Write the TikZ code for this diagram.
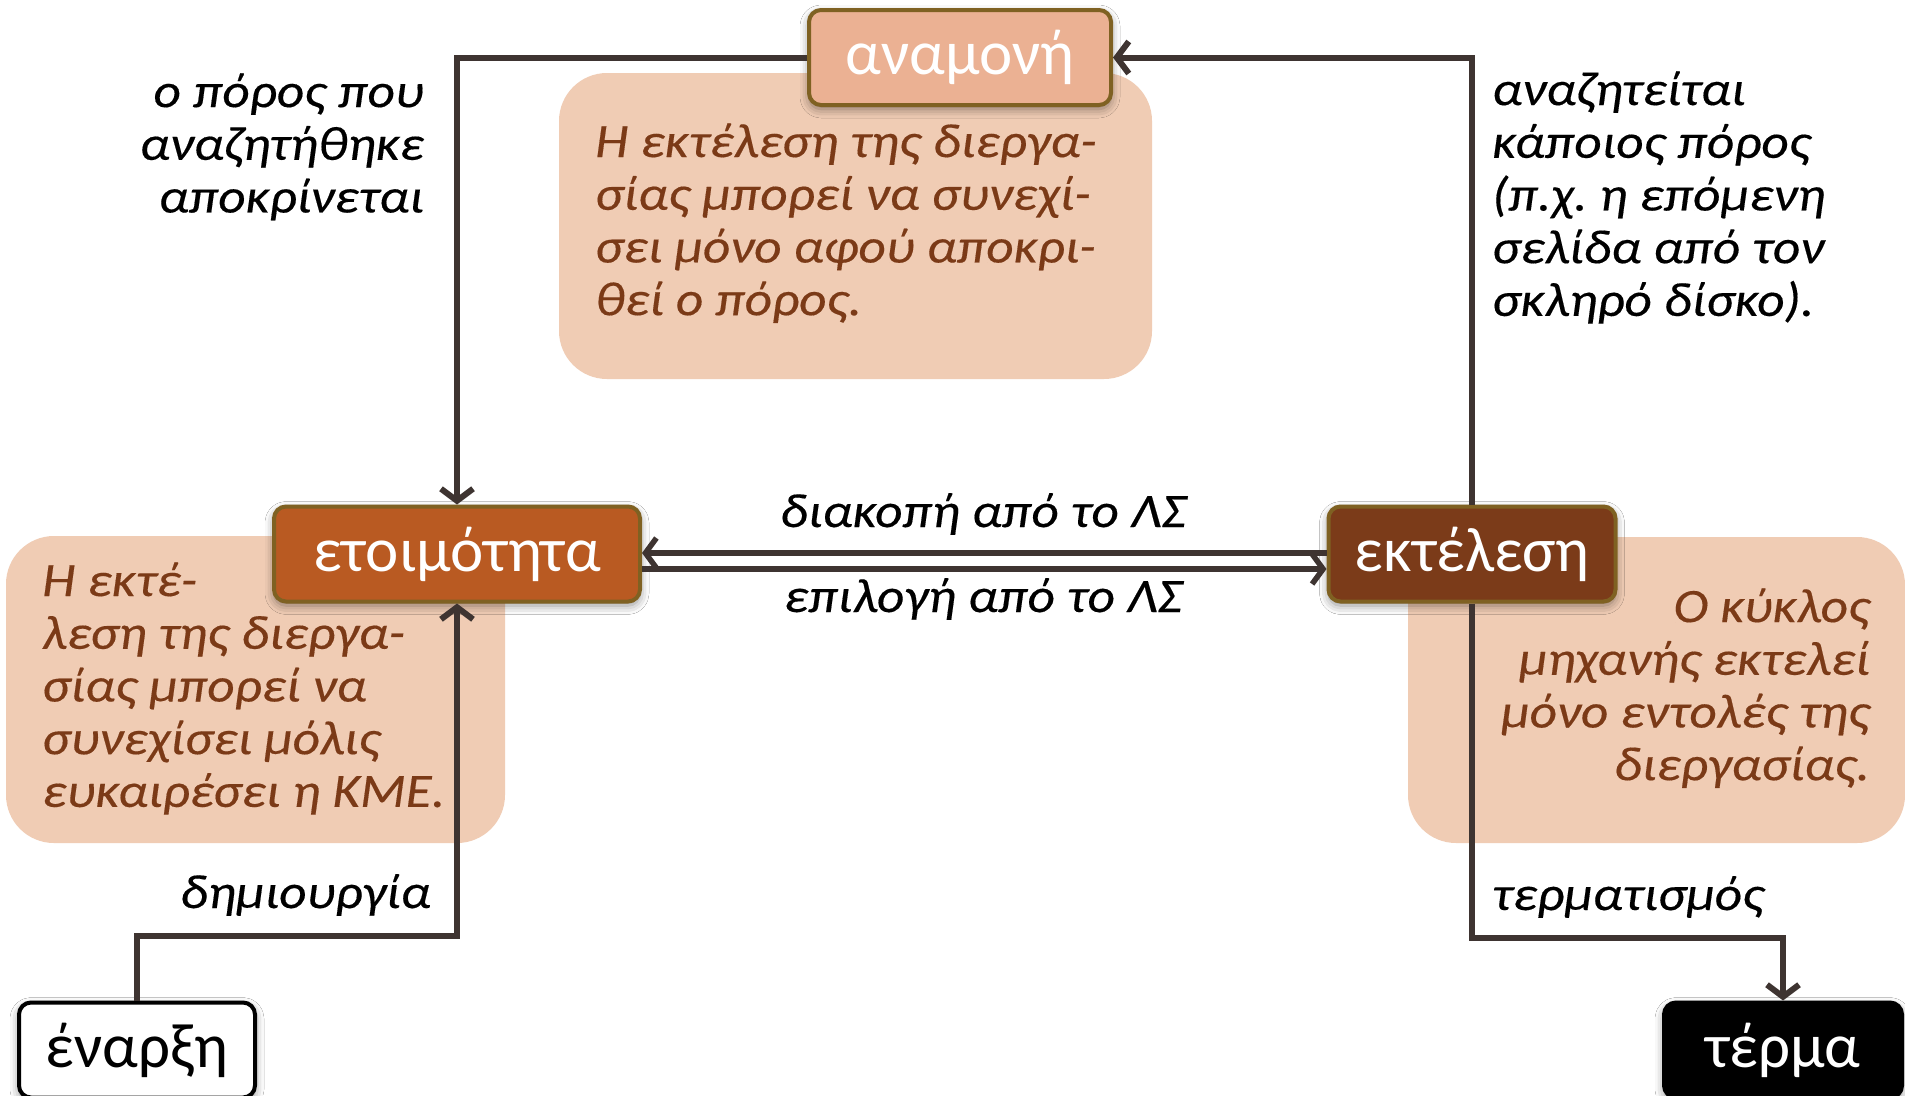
\documentclass[tikz,border=0pt]{standalone}
\usepackage{fontspec}
\setmainfont{Carlito}[ItalicFeatures={FakeStretch=1.11,FakeBold=0.3}]
\usetikzlibrary{arrows.meta,shadows.blur,calc}
\definecolor{waitc}{HTML}{EBB193}
\definecolor{readyc}{HTML}{B95A22}
\definecolor{runc}{HTML}{7B3B19}
\definecolor{bordc}{HTML}{7F6122}
\definecolor{notec}{HTML}{F0CCB4}
\definecolor{notet}{HTML}{7B3A17}
\definecolor{linec}{HTML}{3E3431}
\newcommand\nfont{\fontsize{48}{52.7}\selectfont\itshape\frenchspacing}
\newcommand\bfontx{\fontsize{63}{68}\selectfont}
\begin{document}
\begin{tikzpicture}[x=1pt,y=-1pt,
  state/.style={rounded corners=12pt, line width=4pt, draw=bordc, minimum height=95pt,
    inner sep=0pt, font=\bfontx, text=white,
    blur shadow={shadow xshift=0pt, shadow yshift=-4pt, shadow blur radius=9pt, shadow opacity=45}},
  notebg/.style={fill=notec, rounded corners=48pt},
  notetxt/.style={inner sep=0pt, font=\nfont, text=notet},
  lbl/.style={inner sep=0pt, font=\nfont, text=black},
  arr/.style={draw=linec, line width=6pt, -{Straight Barb[length=12pt,width=32pt,line width=6pt]}},
  arrthin/.style={draw=linec, line width=5.5pt, -{Straight Barb[length=11pt,width=30pt,line width=5.5pt]}}]
\useasboundingbox[fill=white] (0,0) rectangle (1905,1095);

% note backgrounds
\fill[notebg] (559,73) rectangle (1152,379);
\fill[notebg] (6,536) rectangle (505,843);
\fill[notebg] (1408,537) rectangle (1905,843);

% note texts
\node[notetxt, anchor=north west, align=left] (nwait) at (595,120)
  {\strut Η εκτέλεση της διεργα-\\σίας μπορεί να συνεχί-\\σει μόνο αφού αποκρι-\\θεί ο πόρος.};
\node[notetxt, anchor=north west, align=left] (nready) at (42,559)
  {\strut Η εκτέ-\\λεση της διεργα-\\σίας μπορεί να\\συνεχίσει μόλις\\ευκαιρέσει η ΚΜΕ.};
\node[notetxt, anchor=north east, align=right] (nrun) at (1870,585)
  {\strut Ο κύκλος\\μηχανής εκτελεί\\μόνο εντολές της\\διεργασίας.};

% states
\node[state, fill=waitc, minimum width=302pt] (wait) at (960,57.5) {αναμονή};
\node[state, fill=readyc, minimum width=366pt] (ready) at (457,554) {ετοιμότητα};
\node[state, fill=runc, minimum width=287pt] (run) at (1472,554) {εκτέλεση};
\node[state, fill=white, draw=black, text=black, minimum width=236pt] (start) at (137,1050) {έναρξη};
\node[state, fill=black, draw=black, text=white, minimum width=238pt] (end) at (1783,1050) {τέρμα};

% connectors
\draw[arr] (wait.west) -| (ready.north);
\draw[arr] (run.north) |- (wait.east);
\draw[arrthin] ([yshift=1pt]run.west) -- ([yshift=1pt]ready.east);
\draw[arrthin] ([yshift=-15pt]ready.east) -- ([yshift=-15pt]run.west);
\coordinate (jl) at (137,936);
\coordinate (jr) at (1472,938);
\draw[arr] (start.north) -- (jl) -| (ready.south);
\draw[arr] (run.south) -- (jr) -| (end.north);

% edge labels
\node[lbl, anchor=north east, align=right] (l1) at (424,70)
  {\strut ο πόρος που\\αναζητήθηκε\\αποκρίνεται};
\node[lbl, anchor=north west, align=left] (l2) at (1492,68)
  {\strut αναζητείται\\κάποιος πόρος\\(π.χ. η επόμενη\\σελίδα από τον\\σκληρό δίσκο).};
\node[lbl, anchor=base] (l3) at (983,527) {διακοπή από το ΛΣ};
\node[lbl, anchor=base] (l4) at (983,612) {επιλογή από το ΛΣ};
\node[lbl, anchor=base east] (l5) at (431,908) {δημιουργία};
\node[lbl, anchor=base west] (l6) at (1492,910) {τερματισμός};
\end{tikzpicture}
\end{document}
